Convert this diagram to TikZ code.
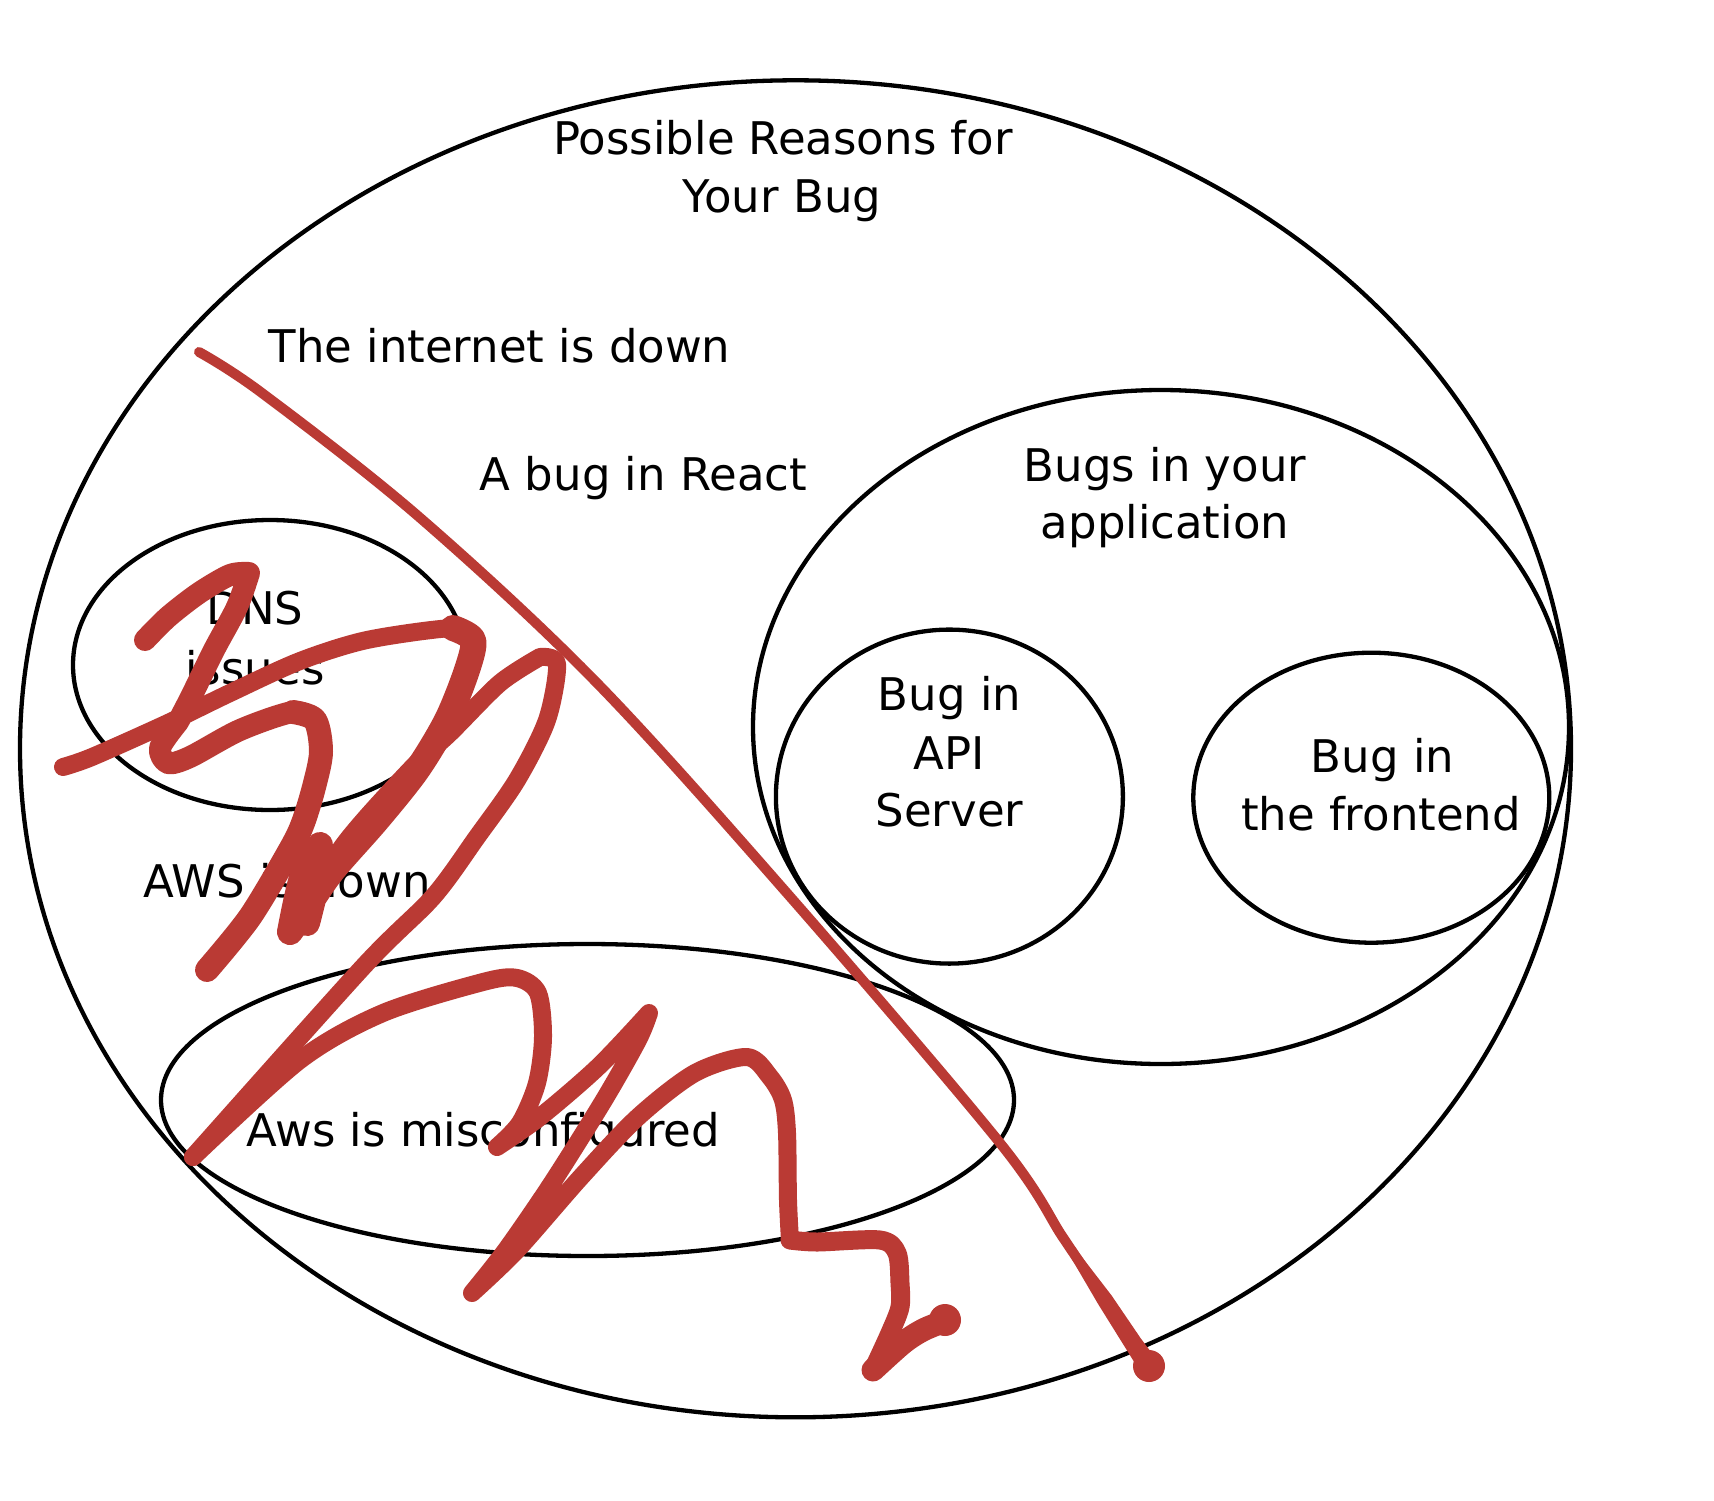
\documentclass[tikz,border=0pt]{standalone}
\usepackage{fontspec}
\setmainfont{DejaVu Sans}
\usetikzlibrary{shapes.geometric}
\definecolor{scrib}{RGB}{186,58,52}
\begin{document}
\begin{tikzpicture}[x=1pt,y=-1pt,
  venn/.style={draw=black, line width=4.3pt, ellipse, inner sep=0pt},
  lbl/.style={font=\fontsize{45}{58}\selectfont, inner sep=0pt, anchor=base},
  scribble/.style={draw=scrib, line width=#1, line cap=round, line join=round},
  ]
\useasboundingbox[fill=white] (0,0) rectangle (1714,1500);

% sets
\node[venn, minimum width=1551pt, minimum height=1337pt] (all) at (795.5,748.8) {};
\node[venn, minimum width=816pt, minimum height=674pt] (app) at (1161,727) {};
\node[venn, minimum width=347pt, minimum height=334pt] (api) at (949.4,796.6) {};
\node[venn, minimum width=356pt, minimum height=290pt] (fe) at (1371.3,797.7) {};
\node[venn, minimum width=394pt, minimum height=290pt] (dns) at (270,665) {};
\node[venn, minimum width=853pt, minimum height=312pt] (aws) at (587.5,1100) {};

% labels
\node[lbl] (t1) at (783,154) {Possible Reasons for};
\node[lbl] (t2) at (782,212) {Your Bug};
\node[lbl] (inet) at (499.5,362) {The internet is down};
\node[lbl] (react) at (643.5,490) {A bug in React};
\node[lbl] (app1) at (1165,481) {Bugs in your};
\node[lbl] (app2) at (1165,538) {application};
\node[lbl] (api1) at (949.5,710) {Bug in};
\node[lbl] (api2) at (949.5,769) {API};
\node[lbl] (api3) at (949.5,826) {Server};
\node[lbl] (fe1) at (1382.5,772) {Bug in};
\node[lbl] (fe2) at (1381,830) {the frontend};
\node[lbl] (dns1) at (255,624) {DNS};
\node[lbl] (dns2) at (255,684) {issues};
\node[lbl] (awsd) at (287,897) {AWS is down};
\node[lbl] (awsm) at (483,1146) {Aws is misconfigured};

% thin red line, thickening into a blob at its end
\draw[scribble=10pt] plot[smooth, tension=0.55] coordinates {(199,352) (262,393) (418,516) (597,683) (793,900) (1000,1143) (1062,1236) (1085,1270)};
\fill[scrib] (1077.7,1251.5) -- (1111.6,1295.5) -- (1140.5,1338) -- (1157,1360)
  -- (1141,1373) -- (1125.5,1348) -- (1098.4,1304.5) -- (1070.3,1256.5) -- cycle;
\fill[scrib] (1149,1366) circle (16);

% scribble 1
\draw[scribble=22pt]
  plot[smooth, tension=0.5] coordinates {(145,640) (168,617) (199,593) (230,575) (249,573)}
  plot[smooth, tension=0.5] coordinates {(249,573) (237,607) (214,650) (191,697) (178,722)}
  plot[smooth, tension=0.5] coordinates {(178,722) (160,748) (168,763) (190,757) (240,730) (293,712) (315,720)};
\draw[scribble=24pt]
  plot[smooth, tension=0.5] coordinates {(293,712) (315,720) (321,752) (314,787) (303,823) (290,850) (250,917) (207,970)};

% scribble 2
\draw[scribble=18pt]
  plot[smooth, tension=0.5] coordinates {(63,767) (92,757) (168,723) (230,693) (300,661) (367,640) (453,628) (472,637)};
\draw[scribble=26pt]
  plot[smooth, tension=0.5] coordinates {(453,628) (473,640) (467,670) (447,720) (417,770) (377,820) (333,870) (310,903) (290,932)}
  plot[smooth, tension=0.5] coordinates {(290,932) (302,878) (320,845)}
  plot[smooth, tension=0.5] coordinates {(320,845) (316,885) (307,923)};
\draw[scribble=18pt]
  plot[smooth, tension=0.5] coordinates {(307,923) (340,850) (410,770) (450,733) (500,683) (540,657)}
  plot[smooth, tension=0.5] coordinates {(540,657) (557,664) (547,720) (517,780) (477,837) (433,897) (363,967) (193,1157)};
\draw[scribble=18pt]
  plot[smooth, tension=0.5] coordinates {(193,1157) (300,1060) (383,1013) (483,982) (517,978) (538,993) (543,1037) (537,1083) (520,1123) (497,1147)}
  plot[smooth, tension=0.5] coordinates {(497,1147) (540,1117) (598,1067) (649,1013)}
  plot[smooth, tension=0.5] coordinates {(649,1013) (638,1040) (604,1100) (552,1183) (506,1250) (472,1293)}
  plot[smooth, tension=0.5] coordinates {(472,1293) (517,1250) (581,1177) (638,1117) (695,1073) (747,1057) (770,1077) (783,1100) (787,1133) (788,1200) (790,1240)};
\draw[scribble=19pt]
  plot[smooth, tension=0.5] coordinates {(790,1240) (817,1242) (880,1240) (897,1253) (900,1283) (900,1307) (890,1333) (873,1370)};
\draw[scribble=23pt]
  plot[smooth, tension=0.5] coordinates {(873,1370) (903,1343) (923,1330) (945,1321)};
\fill[scrib] (945,1320) circle (16);
\end{tikzpicture}
\end{document}
